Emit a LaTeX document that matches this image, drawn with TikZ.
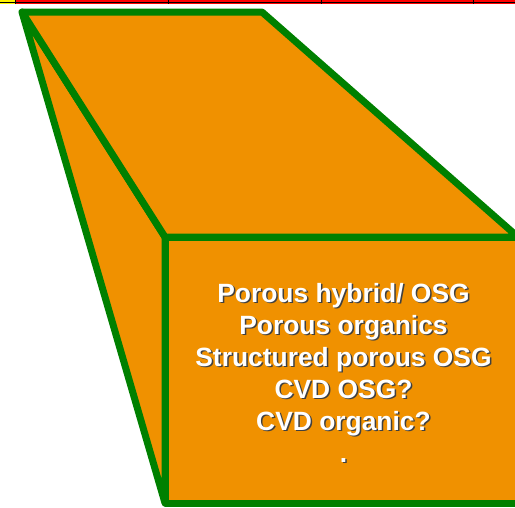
\documentclass[tikz,border=0pt]{standalone}
\usepackage{fontspec}
\setmainfont{Liberation Sans}
\definecolor{boxorange}{RGB}{240,145,0}
\definecolor{edgegreen}{RGB}{0,128,0}
\tikzset{
  face/.style={fill=boxorange, draw=edgegreen, line width=7pt, line join=round},
  label/.style={text=white, font=\bfseries\fontsize{26.4}{32}\selectfont, align=center, inner sep=0pt},
  labelshadow/.style={label, text=black!75}
}
\begin{document}
\begin{tikzpicture}[x=1pt,y=-1pt]
  \useasboundingbox (0,0) rectangle (515,507);
  \clip (0,0) rectangle (515,507);
  % ruler strip along the top edge
  \fill[yellow] (0,0) rectangle (15,4);
  \fill[red] (15,0) rectangle (515,4);
  \draw[black, line width=1pt] (0,2) -- (515,2);
  \foreach \t in {15,168,321,473} \draw[black, line width=1pt] (\t,0) -- (\t,4);
  % box corners
  \coordinate (bl) at (22,12);
  \coordinate (br) at (262,12);
  \coordinate (ftl) at (165,237);
  \coordinate (ftr) at (518,237);
  \coordinate (fbl) at (165,503);
  \coordinate (fbr) at (518,503);
  % side and top faces
  \draw[face] (bl) -- (ftl) -- (fbl) -- cycle;
  \draw[face] (bl) -- (br) -- (ftr) -- (ftl) -- cycle;
  % front face
  \draw[face] (ftl) rectangle (fbr);
  % list on the front face
  \node[labelshadow] (shadow) at (345,374) {Porous hybrid/ OSG\\Porous organics\\Structured porous OSG\\CVD OSG?\\CVD organic?\\.};
  \node[label] (list) at (343.5,372.5) {Porous hybrid/ OSG\\Porous organics\\Structured porous OSG\\CVD OSG?\\CVD organic?\\.};
\end{tikzpicture}
\end{document}
